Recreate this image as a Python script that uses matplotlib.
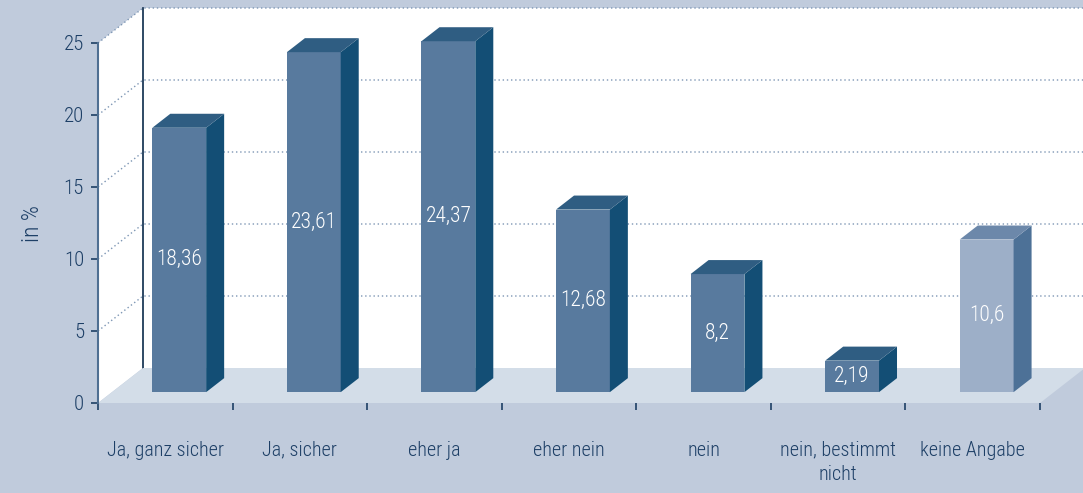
import matplotlib
matplotlib.use("Agg")
import matplotlib.pyplot as plt
from matplotlib import font_manager
from matplotlib.patches import Polygon

categories = ["Ja, ganz sicher", "Ja, sicher", "eher ja", "eher nein", "nein",
              "nein, bestimmt\nnicht", "keine Angabe"]
values = [18.36, 23.61, 24.37, 12.68, 8.2, 2.19, 10.6]
value_labels = ["18,36", "23,61", "24,37", "12,68", "8,2", "2,19", "10,6"]
yticks = [0, 5, 10, 15, 20, 25]

avail = {f.name for f in font_manager.fontManager.ttflist}
font = "DejaVu Sans"
for cand in ["Liberation Sans Narrow", "Roboto Condensed", "Open Sans Condensed", "Noto Sans", "Open Sans"]:
    if cand in avail:
        font = cand
        break
plt.rcParams['font.family'] = [font, 'DejaVu Sans']
plt.rcParams['font.weight'] = 'light'
plt.rcParams['axes.labelweight'] = 'light'

BG = "#c0cbdc"
FLOOR = "#d3dde8"
TXT = "#1d3f66"
GRID = "#7d96b4"
front_c = ["#587a9e"] * 6 + ["#9dafc8"]
top_c = ["#2f5d82"] * 6 + ["#6c88aa"]
side_c = ["#134e75"] * 6 + ["#4d7197"]

W, H, DPI = 1083, 493, 100
fig = plt.figure(figsize=(W / DPI, H / DPI), dpi=DPI, facecolor=BG)
ax = fig.add_axes([98 / W, (H - 403) / H, 942 / W, 360 / H])
ax.set_xlim(0, 7)
ax.set_ylim(0, 25)
ax.set_facecolor("none")
n = len(values)

px_x = 7 / 942.0
px_y = 25 / 360.0
DX = 45 * px_x   # full depth offset in data units
DY = 35 * px_y

def P(x, y, d):
    return (x + d * DX, y + d * DY)

def poly(pts, color, z, lw=0):
    ax.add_patch(Polygon(pts, closed=True, facecolor=color, edgecolor=color,
                         lw=lw, zorder=z, clip_on=False))

# left wall and back wall
poly([P(0, 0, 0), P(0, 25, 0), P(0, 25, 1), P(0, 0, 1)], "white", 0)
poly([P(0, 0, 1), P(0, 25, 1), P(7.5, 25, 1), P(7.5, 0, 1)], "white", 0)
# grid lines
for t in yticks[1:]:
    xs, ys = zip(P(0, t, 0), P(0, t, 1), P(7.5, t, 1))
    ax.plot(xs, ys, color=GRID, lw=1.0, ls=(0, (1, 2)), zorder=1, clip_on=False)
# back vertical line
xs, ys = zip(P(0, 0, 1), P(0, 25, 1))
ax.plot(xs, ys, color="#0b2a4a", lw=1.2, zorder=1, clip_on=False)
# floor
poly([P(0, 0, 0), P(7, 0, 0), P(7, 0, 1), P(0, 0, 1)], FLOOR, 2)

# bars
d0, dd, bw = 0.31, 0.40, 0.40
for i, v in enumerate(values):
    c = i + 0.5
    xl, xr = c - bw / 2, c + bw / 2
    poly([P(xl, 0, d0), P(xr, 0, d0), P(xr, v, d0), P(xl, v, d0)], front_c[i], 3)
    poly([P(xr, 0, d0), P(xr, 0, d0 + dd), P(xr, v, d0 + dd), P(xr, v, d0)], side_c[i], 3)
    poly([P(xl, v, d0), P(xr, v, d0), P(xr, v, d0 + dd), P(xl, v, d0 + dd)], top_c[i], 3)
    tx, ty = P(c, v / 2, d0)
    ax.text(tx, ty, value_labels[i], color="white", ha="center", va="center",
            fontsize=15.5, zorder=5)

# axes styling
for s in ["top", "right", "bottom"]:
    ax.spines[s].set_visible(False)
ax.spines["left"].set_color("#4f6f92")
ax.spines["left"].set_linewidth(1.5)
ax.spines["left"].set_zorder(6)
ax.set_yticks(yticks)
ax.set_yticklabels([str(t) for t in yticks])
ax.tick_params(axis="y", direction="out", length=5, width=1.3, color="#2a4a6e",
               labelcolor=TXT, labelsize=15, pad=5)
ax.set_xticks(range(0, 8))
ax.set_xticklabels([])
ax.set_xticks([i + 0.5 for i in range(n)], minor=True)
ax.set_xticklabels(categories, minor=True)
ax.tick_params(axis="x", which="major", direction="out", length=5, width=1.3,
               color="#2a4a6e")
ax.tick_params(axis="x", which="minor", length=0, labelcolor=TXT, labelsize=14.5, pad=27)
for lab in ax.get_xticklabels(minor=True):
    lab.set_linespacing(1.4)
    lab.set_verticalalignment("top")
ax.set_ylabel("in %", color=TXT, fontsize=17, fontweight="light", labelpad=14)

fig.savefig("out.png", dpi=DPI, facecolor=BG)
